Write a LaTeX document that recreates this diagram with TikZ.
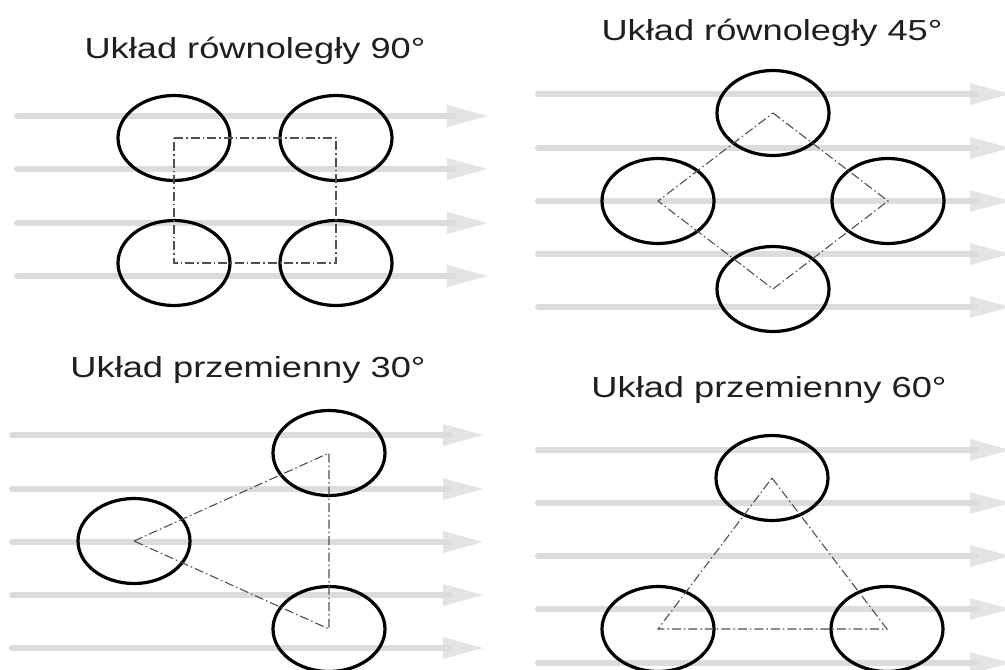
\documentclass[tikz,border=0pt]{standalone}
\usepackage{fontspec}
\setmainfont{Liberation Sans}
\newfontfamily\titlefont[FakeStretch=1.25]{Liberation Sans}
\usetikzlibrary{shapes.geometric}
\definecolor{flowline}{HTML}{DCDCDC}
\definecolor{flowhead}{HTML}{E4E4E4}
\definecolor{axisgray}{HTML}{505050}
\newcommand\flowarrow[4]{%
  \fill[flowhead] (#3,#1-11) -- (#4,#1) -- (#3,#1+11) -- cycle;
  \draw[flowline, line width=6pt, line cap=round] (#2,#1) -- (#3+6,#1);
}
\tikzset{
  tube/.style={draw=black, line width=3.2pt, ellipse, minimum width=112pt, minimum height=85pt, inner sep=0pt},
  pitch/.style={draw=axisgray, line width=1.1pt, dash pattern=on 9pt off 3pt on 1.5pt off 3pt},
  title/.style={anchor=base, inner sep=0pt, text=black!88, font=\titlefont\fontsize{29}{32}\selectfont},
}
\begin{document}
\begin{tikzpicture}[x=1pt, y=-1pt]
\useasboundingbox (0,0) rectangle (1005,670);
\clip (0,0) rectangle (1005,670);
\fill[white] (0,0) rectangle (1005,670);
% flow arrows
\foreach \yy in {116,169,223,276} {\flowarrow{\yy}{17}{447}{488}}
\foreach \yy in {94,148,201,254,307} {\flowarrow{\yy}{538}{970}{1010}}
\foreach \yy in {435,489,542,595,648} {\flowarrow{\yy}{12}{443}{483}}
\foreach \yy in {450,503,556,609,663} {\flowarrow{\yy}{538}{970}{1010}}
% titles
\node[title] (t1) at (255,58) {Układ równoległy 90°};
\node[title] (t2) at (772,40) {Układ równoległy 45°};
\node[title] (t3) at (248,377) {Układ przemienny 30°};
\node[title] (t4) at (769,397) {Układ przemienny 60°};
% panel 1
\node[tube] (a1) at (174,138) {};
\node[tube] (a2) at (336,138) {};
\node[tube] (a3) at (174,263) {};
\node[tube] (a4) at (336,263) {};
\draw[pitch] (a1.center) -- (a2.center) -- (a4.center) -- (a3.center) -- cycle;
% panel 2
\node[tube] (b1) at (773,113) {};
\node[tube] (b2) at (658,201) {};
\node[tube] (b3) at (888,201) {};
\node[tube] (b4) at (773,289) {};
\draw[pitch] (b1.center) -- (b3.center) -- (b4.center) -- (b2.center) -- cycle;
% panel 3
\node[tube] (c1) at (134,541) {};
\node[tube] (c2) at (329,453) {};
\node[tube] (c3) at (329,629) {};
\draw[pitch] (c1.center) -- (c2.center) -- (c3.center) -- cycle;
% panel 4
\node[tube] (d1) at (772,478) {};
\node[tube] (d2) at (658,629) {};
\node[tube] (d3) at (887,629) {};
\draw[pitch] (d1.center) -- (d3.center) -- (d2.center) -- cycle;
\end{tikzpicture}
\end{document}
